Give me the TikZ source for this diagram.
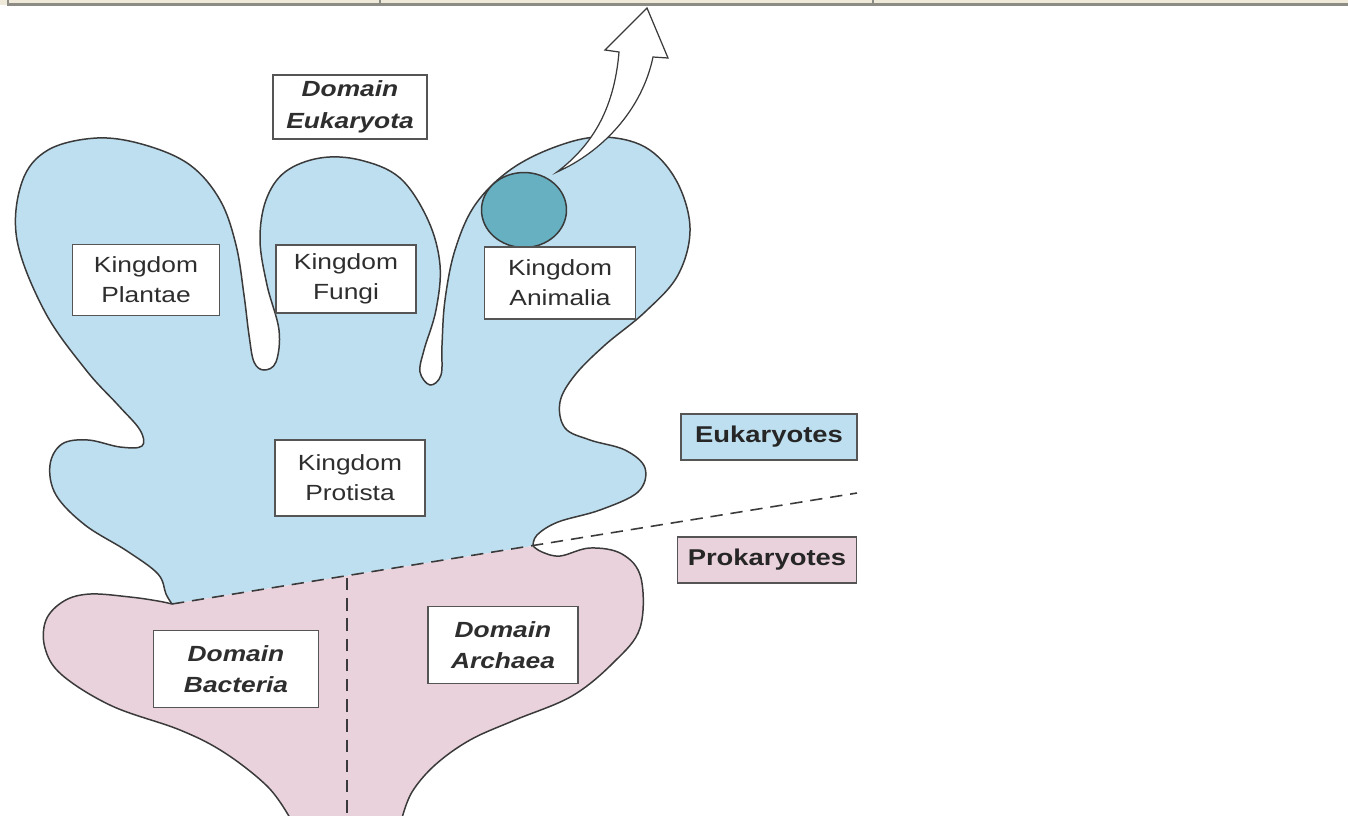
\documentclass[tikz,border=0pt]{standalone}
\usepackage{fontspec}
\setmainfont[FakeStretch=1.2]{Liberation Sans}
\usepackage{tikz}
\usetikzlibrary{shapes.geometric, arrows}
\definecolor{eukblue}{HTML}{BEDFEF}
\definecolor{prokpink}{HTML}{EAD2DD}
\definecolor{cellteal}{HTML}{67B0C1}
\definecolor{lobeline}{HTML}{3A3A3A}
\definecolor{boxgrey}{HTML}{555555}
\definecolor{labelgrey}{HTML}{2E2E2E}
\definecolor{tablecream}{HTML}{EFE9DA}
\definecolor{tablegrey}{HTML}{8C8C84}
\tikzstyle{kingdom} = [rectangle, minimum width=2.94cm, minimum height=1.42cm, text centered, align=center, draw=boxgrey, line width=0.8pt, fill=white, inner sep=0pt, text=labelgrey, font=\fontsize{12.5}{17}\selectfont]
\tikzstyle{domainbox} = [kingdom, font=\fontsize{12.5}{18}\selectfont\bfseries\itshape]
\tikzstyle{legendbox} = [rectangle, minimum width=3.52cm, minimum height=0.92cm, text centered, draw=boxgrey, line width=0.8pt, inner sep=0pt, text=black!85, font=\fontsize{13}{15}\selectfont\bfseries]
\tikzstyle{lobe} = [draw=lobeline, line width=0.85pt]
\tikzstyle{divider} = [draw=lobeline, line width=0.9pt, dash pattern=on 7pt off 4.5pt]

\begin{document}
\begin{tikzpicture}[x=0.02cm, y=-0.02cm]
\useasboundingbox (0,0) rectangle (1348,815);

% table edge at the top
\fill [tablecream] (0,0) rectangle (1348,4.5);
\draw [tablegrey, line width=1.2pt] (8,-5) -- (8,4.5) -- (1348,4.5);
\draw [tablegrey, line width=1.2pt] (380,-5) -- (380,4.5);
\draw [tablegrey, line width=1.2pt] (873,-5) -- (873,4.5);

\coordinate (junctL) at (172,604);
\coordinate (junctR) at (533,546);
\coordinate (dashEnd) at (857,493);
\coordinate (splitTop) at (347,578);
\coordinate (splitBot) at (347,815);

% eukaryote tree
\fill [eukblue] (junctL) -- plot [smooth, tension=0.6] coordinates {(172,604) (166,594) (158,574) (127,551) (85,525) (56,495) (50,465) (62,444) (88,440) (120,447) (142,446) (140,430) (118,405) (86,370) (45,312) (17,240) (22,182) (48,150) (97,138) (145,145) (190,165) (220,200) (236,245) (244,295) (249,335) (254,362) (264,370) (276,362) (279,330) (267,285) (260,240) (266,200) (285,172) (320,158) (360,160) (400,178) (428,220) (440,265) (436,310) (424,350) (420,372) (430,385) (441,375) (442,345) (445,300) (455,250) (475,205) (510,170) (555,147) (600,137) (645,147) (676,180) (690,228) (678,275) (645,312) (605,345) (575,375) (560,402) (565,428) (590,440) (625,450) (645,468) (638,492) (600,510) (558,522) (537,535) (533,546)} -- cycle;
\draw [lobe] plot [smooth, tension=0.6] coordinates {(172,604) (166,594) (158,574) (127,551) (85,525) (56,495) (50,465) (62,444) (88,440) (120,447) (142,446) (140,430) (118,405) (86,370) (45,312) (17,240) (22,182) (48,150) (97,138) (145,145) (190,165) (220,200) (236,245) (244,295) (249,335) (254,362) (264,370) (276,362) (279,330) (267,285) (260,240) (266,200) (285,172) (320,158) (360,160) (400,178) (428,220) (440,265) (436,310) (424,350) (420,372) (430,385) (441,375) (442,345) (445,300) (455,250) (475,205) (510,170) (555,147) (600,137) (645,147) (676,180) (690,228) (678,275) (645,312) (605,345) (575,375) (560,402) (565,428) (590,440) (625,450) (645,468) (638,492) (600,510) (558,522) (537,535) (533,546)};

% prokaryote base
\fill [prokpink] plot [smooth, tension=0.6] coordinates {(290,818) (268,787) (225,753) (180,730) (112,706) (62,675) (45,648) (46,620) (64,601) (90,594) (130,597) (158,601) (172,604)} -- (junctR) -- plot [smooth, tension=0.6] coordinates {(533,546) (542,552) (560,556) (590,548) (622,554) (641,578) (640,628) (614,662) (572,696) (515,720) (470,740) (435,765) (412,792) (402,818)} -- cycle;
\draw [lobe] plot [smooth, tension=0.6] coordinates {(290,818) (268,787) (225,753) (180,730) (112,706) (62,675) (45,648) (46,620) (64,601) (90,594) (130,597) (158,601) (172,604)};
\draw [lobe] plot [smooth, tension=0.6] coordinates {(533,546) (542,552) (560,556) (590,548) (622,554) (641,578) (640,628) (614,662) (572,696) (515,720) (470,740) (435,765) (412,792) (402,818)};

\draw [divider] (junctL) -- (dashEnd);
\draw [divider] (splitTop) -- (splitBot);

% arrow leaving the animal lobe
\draw [lobe, line width=0.7pt, fill=white, line join=miter] (557,172) .. controls (590,147) and (614,112) .. (619,52) -- (605,50) -- (647,8) -- (668,58) -- (653,57) .. controls (642,110) and (602,152) .. (557,172) -- cycle;

\node (cell) [ellipse, draw=lobeline, line width=0.85pt, fill=cellteal, minimum width=1.7cm, minimum height=1.5cm, inner sep=0pt] at (524,210) {};

\node (eukaryota) [domainbox, minimum width=3.08cm, minimum height=1.28cm] at (350,107) {Domain\\Eukaryota};
\node (plantae) [kingdom] at (146,280) {Kingdom\\Plantae};
\node (fungi) [kingdom, minimum width=2.8cm, minimum height=1.36cm] at (346,279) {Kingdom\\Fungi};
\node (animalia) [kingdom, minimum width=3.02cm, minimum height=1.44cm] at (560,283) {Kingdom\\Animalia};
\node (protista) [kingdom, minimum width=3.0cm, minimum height=1.52cm] at (350,478) {Kingdom\\Protista};
\node (bacteria) [domainbox, minimum width=3.3cm, minimum height=1.54cm] at (236,669) {Domain\\Bacteria};
\node (archaea) [domainbox, minimum width=3.0cm, minimum height=1.54cm] at (503,645) {Domain\\Archaea};
\node (eukaryotes) [legendbox, fill=eukblue] at (769,437) {Eukaryotes};
\node (prokaryotes) [legendbox, fill=prokpink, minimum width=3.58cm, minimum height=0.92cm] at (767,560) {Prokaryotes};

\end{tikzpicture}
\end{document}
